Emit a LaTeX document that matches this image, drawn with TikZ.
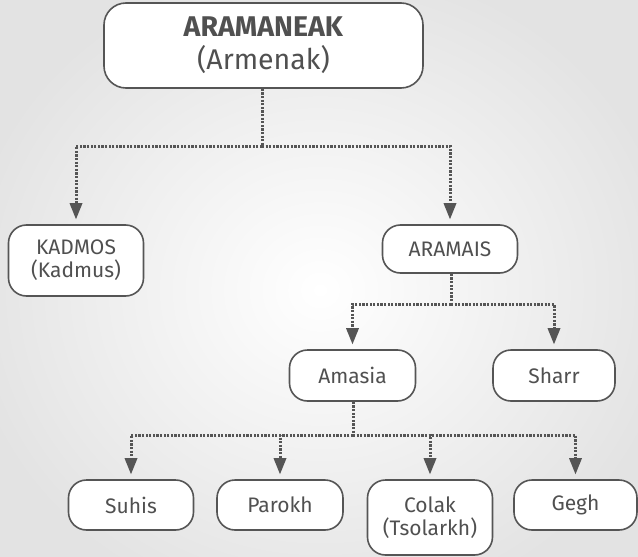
\documentclass[tikz,border=0pt]{standalone}
\usepackage{fontspec}
\setmainfont{Fira Sans}
\usetikzlibrary{arrows.meta}
\definecolor{ink}{HTML}{505050}
\definecolor{edge}{HTML}{555555}
\begin{document}
\begin{tikzpicture}[x=1pt,y=-1pt,
  box/.style={draw=edge,line width=1.6pt,fill=white,rounded corners=18pt,
    text=ink,align=center,inner sep=0pt,font=\fontsize{21}{23}\selectfont},
  conn/.style={draw=edge,line width=3pt,dash pattern={on 2.2pt off 1.4pt}},
  arr/.style={conn,-{Triangle[width=13pt,length=16pt,line width=0pt]},shorten >=5pt}
]
\useasboundingbox (0,0) rectangle (638,557);
\shade[inner color=white,outer color=black!11] (-40,-40) rectangle (680,620);

\node[box,minimum width=319pt,minimum height=85pt,rounded corners=22pt,
  font=\fontsize{28.5}{33}\selectfont] (top) at (263.5,45.5)
  {\textbf{ARAMANEAK}\\(Armenak)};
\node[box,minimum width=135pt,minimum height=71pt] (kad) at (76,260.5) {KADMOS\\(Kadmus)};
\node[box,minimum width=135pt,minimum height=48pt] (ara) at (450,249) {ARAMAIS};
\node[box,minimum width=126pt,minimum height=51pt] (ama) at (352.5,375.5) {Amasia};
\node[box,minimum width=122pt,minimum height=51pt] (sha) at (554,375.5) {Sharr};
\node[box,minimum width=125pt,minimum height=50pt] (suh) at (131,505) {Suhis};
\node[box,minimum width=126pt,minimum height=50pt] (par) at (280,505) {Parokh};
\node[box,minimum width=125pt,minimum height=75pt] (col) at (430,517.5) {Colak\\(Tsolarkh)};
\node[box,minimum width=123pt,minimum height=50pt] (geg) at (575.5,505) {Gegh};

\coordinate (j1) at (262,146);
\coordinate (j2) at (451,304);
\coordinate (j3) at (353,435);

\draw[conn] (top.south -| j1) -- (j1);
\draw[arr] (j1) -| (kad.north);
\draw[arr] (j1) -| (ara.north);

\draw[conn] (ara.south -| j2) -- (j2);
\draw[arr] (j2) -| (ama.north);
\draw[arr] (j2) -| (sha.north);

\draw[conn] (ama.south -| j3) -- (j3);
\draw[arr] (j3) -| (suh.north);
\draw[arr] (j3) -| (par.north);
\draw[arr] (j3) -| (col.north);
\draw[arr] (j3) -| (geg.north);
\end{tikzpicture}
\end{document}
